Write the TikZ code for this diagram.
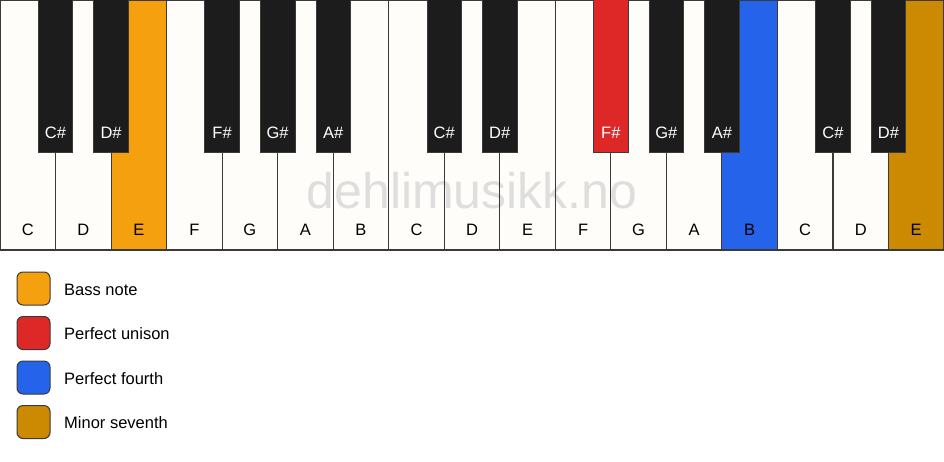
\documentclass[tikz,border=0pt]{standalone}
\usepackage{fontspec}
\setmainfont{Liberation Sans}
\definecolor{keywhite}{HTML}{FFFDF9}
\definecolor{keyblack}{HTML}{1C1C1C}
\definecolor{keyline}{HTML}{3A3A3A}
\definecolor{bassc}{HTML}{F5A00F}
\definecolor{unisonc}{HTML}{DE2828}
\definecolor{fourthc}{HTML}{2563EB}
\definecolor{seventhc}{HTML}{CC8A03}
\definecolor{wmark}{HTML}{DEDEDE}
\begin{document}
\begin{tikzpicture}[x=1pt,y=-1pt,
  whitekey/.style={fill=keywhite, minimum width=55.53pt, minimum height=250pt, inner sep=0pt, outer sep=0pt, anchor=north west},
  blackkey/.style={draw=keyline, line width=0.8pt, fill=keyblack, minimum width=34.5pt, minimum height=153pt, inner sep=0pt, anchor=north},
  wlabel/.style={font=\fontsize{16.5}{18}\selectfont, text=black, inner sep=0pt},
  blabel/.style={font=\fontsize{16.5}{18}\selectfont, text=white, inner sep=0pt},
  legbox/.style={draw=keyline, line width=1pt, rounded corners=6pt, minimum size=33pt, inner sep=0pt},
  legtext/.style={font=\fontsize{16.5}{18}\selectfont, anchor=west, inner sep=0pt}]
\useasboundingbox (0,0) rectangle (944,461);
\fill[white] (0,0) rectangle (944,461);
% white keys
\foreach \i/\n/\c in {0/C/keywhite,1/D/keywhite,2/E/bassc,3/F/keywhite,4/G/keywhite,5/A/keywhite,6/B/keywhite,7/C/keywhite,8/D/keywhite,9/E/keywhite,10/F/keywhite,11/G/keywhite,12/A/keywhite,13/B/fourthc,14/C/keywhite,15/D/keywhite,16/E/seventhc}{
  \node[whitekey, fill=\c] (w\i) at (\i*55.5294,0) {};
}
% watermark
\node[font=\fontsize{50}{55}\selectfont, text=wmark] (wm) at (472,191) {dehlimusikk.no};
% white key outlines and labels
\foreach \i/\n in {0/C,1/D,2/E,3/F,4/G,5/A,6/B,7/C,8/D,9/E,10/F,11/G,12/A,13/B,14/C,15/D,16/E}{
  \draw[keyline, line width=1.1pt] (w\i.north west) rectangle (w\i.south east);
  \node[wlabel] (wl\i) at ([yshift=20pt]w\i.south) {\n};
}
% black keys
\foreach \b/\n/\c in {1/C/keyblack,2/D/keyblack,4/F/keyblack,5/G/keyblack,6/A/keyblack,8/C/keyblack,9/D/keyblack,11/F/unisonc,12/G/keyblack,13/A/keyblack,15/C/keyblack,16/D/keyblack}{
  \node[blackkey, fill=\c] (b\b) at (\b*55.5294,-1) {};
  \node[blabel] (bl\b) at ([yshift=20pt]b\b.south) {\n\#};
}
% legend
\node[legbox, fill=bassc] (lg1) at (33.5,288.5) {};
\node[legtext] (lt1) at (64,289.5) {Bass note};
\node[legbox, fill=unisonc] (lg2) at (33.5,333) {};
\node[legtext] (lt2) at (64,334) {Perfect unison};
\node[legbox, fill=fourthc] (lg3) at (33.5,377.5) {};
\node[legtext] (lt3) at (64,378.5) {Perfect fourth};
\node[legbox, fill=seventhc] (lg4) at (33.5,422) {};
\node[legtext] (lt4) at (64,423) {Minor seventh};
\end{tikzpicture}
\end{document}
